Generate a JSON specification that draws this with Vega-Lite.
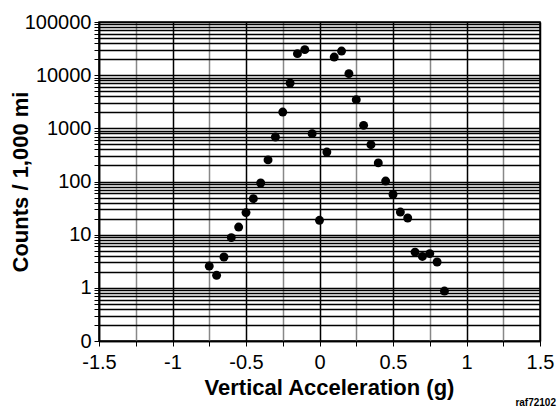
{
  "$schema": "https://vega.github.io/schema/vega-lite/v6.json",
  "width": 441,
  "height": 319,
  "autosize": {"type": "none"},
  "padding": {"left": 99, "top": 22, "right": 19, "bottom": 70},
  "background": "white",
  "config": {
    "font": "Liberation Sans",
    "view": {"stroke": "#000", "strokeWidth": 1.5},
    "axis": {"labelFont": "Liberation Sans", "titleFont": "Liberation Sans", "labelColor": "#000", "titleColor": "#000", "domainColor": "#000", "tickColor": "#000", "labelFlush": false, "labelOverlap": false}
  },
  "title": {"text": "raf72102", "orient": "bottom", "anchor": "end", "frame": "group", "fontSize": 10, "fontWeight": "bold", "font": "Liberation Sans", "color": "#000", "offset": 0, "dx": 16},
  "data": {"values": [
    {"g": -0.75, "c": 2.57},
    {"g": -0.70, "c": 1.72},
    {"g": -0.65, "c": 3.8},
    {"g": -0.60, "c": 8.8},
    {"g": -0.55, "c": 13.9},
    {"g": -0.50, "c": 26},
    {"g": -0.45, "c": 47.6},
    {"g": -0.40, "c": 93.6},
    {"g": -0.35, "c": 255},
    {"g": -0.30, "c": 686},
    {"g": -0.25, "c": 2025},
    {"g": -0.20, "c": 7110},
    {"g": -0.15, "c": 25400},
    {"g": -0.10, "c": 30200},
    {"g": -0.05, "c": 795},
    {"g": 0.00, "c": 18.6},
    {"g": 0.05, "c": 358},
    {"g": 0.10, "c": 21900},
    {"g": 0.15, "c": 28400},
    {"g": 0.20, "c": 10690},
    {"g": 0.25, "c": 3467},
    {"g": 0.30, "c": 1138},
    {"g": 0.35, "c": 493},
    {"g": 0.40, "c": 224},
    {"g": 0.45, "c": 102},
    {"g": 0.50, "c": 57},
    {"g": 0.55, "c": 26.6},
    {"g": 0.60, "c": 20.6},
    {"g": 0.65, "c": 4.7},
    {"g": 0.70, "c": 3.9},
    {"g": 0.75, "c": 4.4},
    {"g": 0.80, "c": 3.06},
    {"g": 0.85, "c": 0.87}
  ]},
  "mark": {"type": "point", "filled": true, "color": "#000", "opacity": 1, "size": 80},
  "encoding": {
    "x": {
      "field": "g", "type": "quantitative",
      "scale": {"domain": [-1.5, 1.5], "nice": false, "zero": false},
      "axis": {
        "title": "Vertical Acceleration (g)",
        "titleFontSize": 22, "titleFontWeight": "bold", "titlePadding": 5, "titleX": 230,
        "values": [-1.5, -1.25, -1, -0.75, -0.5, -0.25, 0, 0.25, 0.5, 0.75, 1, 1.25, 1.5],
        "labelExpr": "(datum.value * 2) % 1 == 0 ? '' + datum.value : ''",
        "labelFontSize": 20, "labelPadding": 6, "tickSize": 5,
        "grid": true,
        "gridColor": {"condition": {"test": "(datum.value * 2) % 1 != 0", "value": "#888"}, "value": "#000"},
        "gridWidth": 1.5, "gridOpacity": 1,
        "domainWidth": 1.5
      }
    },
    "y": {
      "field": "c", "type": "quantitative",
      "scale": {"type": "log", "domain": [0.1, 100000], "nice": false},
      "axis": {
        "title": "Counts / 1,000 mi",
        "titleFontSize": 22, "titleFontWeight": "bold", "titlePadding": -8,
        "values": [0.1, 0.2, 0.3, 0.4, 0.5, 0.6, 0.7, 0.8, 0.9, 1, 2, 3, 4, 5, 6, 7, 8, 9, 10, 20, 30, 40, 50, 60, 70, 80, 90, 100, 200, 300, 400, 500, 600, 700, 800, 900, 1000, 2000, 3000, 4000, 5000, 6000, 7000, 8000, 9000, 10000, 20000, 30000, 40000, 50000, 60000, 70000, 80000, 90000, 100000],
        "labelExpr": "datum.value == 0.1 ? '0' : (indexof([1, 10, 100, 1000, 10000, 100000], datum.value) >= 0 ? '' + datum.value : '')",
        "labelFontSize": 20, "labelPadding": 3, "tickSize": 5,
        "grid": true, "gridColor": "#000", "gridWidth": 1.3, "gridOpacity": 1,
        "domainWidth": 1.5
      }
    }
  }
}
